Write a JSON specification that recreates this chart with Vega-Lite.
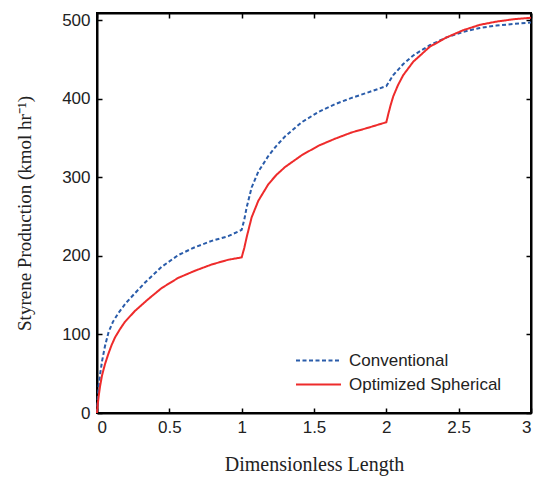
{
  "$schema": "https://vega.github.io/schema/vega-lite/v6.json",
  "width": 434,
  "height": 400,
  "autosize": {"type": "none"},
  "padding": {"left": 97, "top": 13, "right": 3, "bottom": 64},
  "background": "white",
  "config": {
    "view": {"stroke": "#000", "strokeWidth": 2},
    "axis": {
      "domain": true, "domainColor": "#000", "domainWidth": 2,
      "grid": false,
      "ticks": true, "tickColor": "#000", "tickWidth": 1.5, "tickSize": -5,
      "labelFont": "Liberation Sans", "labelFontSize": 17, "labelColor": "#222",
      "titleFont": "Liberation Serif", "titleFontWeight": "normal", "titleColor": "#222"
    },
    "legend": {
      "orient": "none", "legendX": 211, "legendY": 337,
      "symbolType": "M-3,0H3", "symbolSize": 225, "symbolStrokeWidth": 2,
      "labelFont": "Liberation Sans", "labelFontSize": 17, "labelColor": "#222",
      "labelOffset": 22, "rowPadding": 6, "padding": 2
    }
  },
  "data": {"values": [
    {"x": 0, "v": 0, "s": "Conventional"},
    {"x": 0.005, "v": 18, "s": "Conventional"},
    {"x": 0.012, "v": 35, "s": "Conventional"},
    {"x": 0.022, "v": 50, "s": "Conventional"},
    {"x": 0.035, "v": 66, "s": "Conventional"},
    {"x": 0.055, "v": 85, "s": "Conventional"},
    {"x": 0.08, "v": 103, "s": "Conventional"},
    {"x": 0.11, "v": 116, "s": "Conventional"},
    {"x": 0.147, "v": 127, "s": "Conventional"},
    {"x": 0.2, "v": 140, "s": "Conventional"},
    {"x": 0.26, "v": 152, "s": "Conventional"},
    {"x": 0.332, "v": 166, "s": "Conventional"},
    {"x": 0.447, "v": 186, "s": "Conventional"},
    {"x": 0.562, "v": 201, "s": "Conventional"},
    {"x": 0.677, "v": 211, "s": "Conventional"},
    {"x": 0.793, "v": 219, "s": "Conventional"},
    {"x": 0.907, "v": 225, "s": "Conventional"},
    {"x": 1.0, "v": 233, "s": "Conventional"},
    {"x": 1.018, "v": 246, "s": "Conventional"},
    {"x": 1.035, "v": 262, "s": "Conventional"},
    {"x": 1.069, "v": 287, "s": "Conventional"},
    {"x": 1.115, "v": 307, "s": "Conventional"},
    {"x": 1.184, "v": 327, "s": "Conventional"},
    {"x": 1.24, "v": 340, "s": "Conventional"},
    {"x": 1.3, "v": 352, "s": "Conventional"},
    {"x": 1.415, "v": 370, "s": "Conventional"},
    {"x": 1.53, "v": 383, "s": "Conventional"},
    {"x": 1.645, "v": 393, "s": "Conventional"},
    {"x": 1.76, "v": 401, "s": "Conventional"},
    {"x": 1.875, "v": 408, "s": "Conventional"},
    {"x": 2.0, "v": 416, "s": "Conventional"},
    {"x": 2.048, "v": 430, "s": "Conventional"},
    {"x": 2.117, "v": 444, "s": "Conventional"},
    {"x": 2.186, "v": 455, "s": "Conventional"},
    {"x": 2.3, "v": 468, "s": "Conventional"},
    {"x": 2.417, "v": 478, "s": "Conventional"},
    {"x": 2.53, "v": 485, "s": "Conventional"},
    {"x": 2.647, "v": 490, "s": "Conventional"},
    {"x": 2.76, "v": 493, "s": "Conventional"},
    {"x": 2.877, "v": 495, "s": "Conventional"},
    {"x": 3.0, "v": 497, "s": "Conventional"},
    {"x": 0, "v": 0, "s": "Optimized Spherical"},
    {"x": 0.005, "v": 11, "s": "Optimized Spherical"},
    {"x": 0.012, "v": 22, "s": "Optimized Spherical"},
    {"x": 0.022, "v": 35, "s": "Optimized Spherical"},
    {"x": 0.035, "v": 48, "s": "Optimized Spherical"},
    {"x": 0.055, "v": 62, "s": "Optimized Spherical"},
    {"x": 0.078, "v": 75, "s": "Optimized Spherical"},
    {"x": 0.1, "v": 86, "s": "Optimized Spherical"},
    {"x": 0.124, "v": 96, "s": "Optimized Spherical"},
    {"x": 0.16, "v": 107, "s": "Optimized Spherical"},
    {"x": 0.193, "v": 116, "s": "Optimized Spherical"},
    {"x": 0.263, "v": 130, "s": "Optimized Spherical"},
    {"x": 0.355, "v": 145, "s": "Optimized Spherical"},
    {"x": 0.447, "v": 159, "s": "Optimized Spherical"},
    {"x": 0.562, "v": 172, "s": "Optimized Spherical"},
    {"x": 0.677, "v": 181, "s": "Optimized Spherical"},
    {"x": 0.793, "v": 189, "s": "Optimized Spherical"},
    {"x": 0.907, "v": 195, "s": "Optimized Spherical"},
    {"x": 1.0, "v": 198, "s": "Optimized Spherical"},
    {"x": 1.018, "v": 210, "s": "Optimized Spherical"},
    {"x": 1.035, "v": 224, "s": "Optimized Spherical"},
    {"x": 1.069, "v": 249, "s": "Optimized Spherical"},
    {"x": 1.115, "v": 270, "s": "Optimized Spherical"},
    {"x": 1.184, "v": 291, "s": "Optimized Spherical"},
    {"x": 1.24, "v": 303, "s": "Optimized Spherical"},
    {"x": 1.3, "v": 313, "s": "Optimized Spherical"},
    {"x": 1.415, "v": 328, "s": "Optimized Spherical"},
    {"x": 1.53, "v": 340, "s": "Optimized Spherical"},
    {"x": 1.645, "v": 349, "s": "Optimized Spherical"},
    {"x": 1.76, "v": 357, "s": "Optimized Spherical"},
    {"x": 1.875, "v": 363, "s": "Optimized Spherical"},
    {"x": 2.0, "v": 370, "s": "Optimized Spherical"},
    {"x": 2.013, "v": 380, "s": "Optimized Spherical"},
    {"x": 2.03, "v": 392, "s": "Optimized Spherical"},
    {"x": 2.048, "v": 403, "s": "Optimized Spherical"},
    {"x": 2.08, "v": 417, "s": "Optimized Spherical"},
    {"x": 2.117, "v": 430, "s": "Optimized Spherical"},
    {"x": 2.186, "v": 447, "s": "Optimized Spherical"},
    {"x": 2.3, "v": 466, "s": "Optimized Spherical"},
    {"x": 2.417, "v": 478, "s": "Optimized Spherical"},
    {"x": 2.53, "v": 487, "s": "Optimized Spherical"},
    {"x": 2.647, "v": 494, "s": "Optimized Spherical"},
    {"x": 2.76, "v": 498, "s": "Optimized Spherical"},
    {"x": 2.877, "v": 501, "s": "Optimized Spherical"},
    {"x": 3.0, "v": 503, "s": "Optimized Spherical"}
  ]},
  "layer": [
    {
      "mark": {"type": "line", "strokeWidth": 2},
      "encoding": {
        "x": {"field": "x", "type": "quantitative", "scale": {"domain": [0, 3], "nice": false},
              "axis": {"orient": "bottom", "values": [0, 0.5, 1, 1.5, 2, 2.5, 3], "format": "~g", "labelPadding": 11, "title": "Dimensionless Length", "titleFontSize": 20, "titlePadding": 19}},
        "y": {"field": "v", "type": "quantitative", "scale": {"domain": [0, 509], "nice": false},
              "axis": {"orient": "left", "values": [0, 100, 200, 300, 400, 500], "labelPadding": 12, "title": "Styrene Production (kmol hr⁻¹)", "titleFontSize": 19, "titlePadding": 27}},
        "color": {"field": "s", "type": "nominal", "title": null,
                  "scale": {"domain": ["Conventional", "Optimized Spherical"], "range": ["#2a5caa", "#ee2b2b"]}},
        "strokeDash": {"field": "s", "type": "nominal", "title": null,
                  "scale": {"domain": ["Conventional", "Optimized Spherical"], "range": [[4, 2.5], [1, 0]]}}
      }
    },
    {
      "mark": {"type": "line", "opacity": 0},
      "encoding": {
        "x": {"field": "x", "type": "quantitative",
              "axis": {"orient": "top", "values": [0, 0.5, 1, 1.5, 2, 2.5, 3], "labels": false, "title": null}},
        "y": {"field": "v", "type": "quantitative",
              "axis": {"orient": "right", "values": [0, 100, 200, 300, 400, 500], "labels": false, "title": null}},
        "detail": {"field": "s", "type": "nominal"}
      }
    }
  ],
  "resolve": {"axis": {"x": "independent", "y": "independent"}}
}
